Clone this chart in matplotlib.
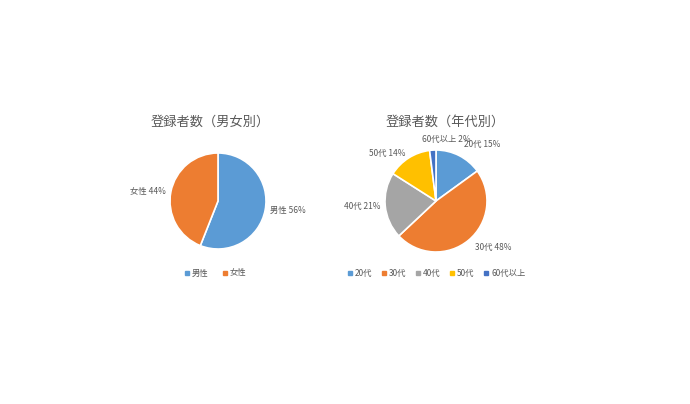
import matplotlib
matplotlib.use("Agg")
import matplotlib.pyplot as plt
from matplotlib.lines import Line2D

plt.rcParams['font.family'] = ['Noto Sans CJK JP', 'DejaVu Sans']

# Data
gender_labels = ["男性", "女性"]
gender_values = [56, 44]
gender_colors = ["#5B9BD5", "#ED7D31"]

age_labels = ["20代", "30代", "40代", "50代", "60代以上"]
age_values = [15, 48, 21, 14, 2]
age_colors = ["#5B9BD5", "#ED7D31", "#A5A5A5", "#FFC000", "#4472C4"]

title_gender = "登録者数（男女別）"
title_age = "登録者数（年代別）"

W, H = 690, 404
fig = plt.figure(figsize=(W / 100, H / 100), dpi=100)
ax = fig.add_axes([0, 0, 1, 1])

text_color = "#595959"
wp = dict(edgecolor="white", linewidth=1.2)


def draw_pie(cx, cy, r, values, labels, colors):
    lbls = [f"{l} {v}%" for l, v in zip(labels, values)]
    wedges, texts = ax.pie(values, labels=lbls, colors=colors, startangle=90,
                           counterclock=False, center=(cx, H - cy), radius=r,
                           labeldistance=1.1, wedgeprops=wp, frame=True,
                           textprops=dict(fontsize=6, color=text_color))
    for t in texts:
        x, _ = t.get_position()
        t.set_ha('left' if x >= cx else 'right')
    return wedges, texts


def nudge(t, dx, dy):
    x, y = t.get_position()
    t.set_position((x + dx, y + dy))


# Gender pie
wg, tg = draw_pie(218, 201, 48, gender_values, gender_labels, gender_colors)
# Age pie
wa, ta = draw_pie(436, 201, 51, age_values, age_labels, age_colors)
# Excel best-fit label placement tweaks
nudge(ta[0], 3, 7)
nudge(ta[1], 3, -3)
nudge(ta[4], 14, 6)
ta[4].set_ha('center')

ax.set_xlim(0, W)
ax.set_ylim(0, H)
ax.set_aspect('equal')
ax.axis('off')

ax.text(210, H - 122, title_gender, ha='center', va='center', fontsize=9.5,
        color=text_color)
ax.text(445, H - 122, title_age, ha='center', va='center', fontsize=9.5,
        color=text_color)


def handles(labels, colors):
    return [Line2D([], [], marker='s', linestyle='none', markersize=3,
                   markerfacecolor=c, markeredgecolor=c, label=l)
            for l, c in zip(labels, colors)]


leg_kw = dict(loc='center', frameon=False, ncol=5, fontsize=6,
              handletextpad=0.2, handlelength=0.8, labelcolor=text_color)
fig.legend(handles=handles(gender_labels, gender_colors), columnspacing=1.6,
           bbox_to_anchor=(215 / W, 1 - 273 / H), **leg_kw)
fig.legend(handles=handles(age_labels, age_colors), columnspacing=1.0,
           bbox_to_anchor=(436 / W, 1 - 273 / H), **leg_kw)

fig.savefig("out.png", dpi=100)
